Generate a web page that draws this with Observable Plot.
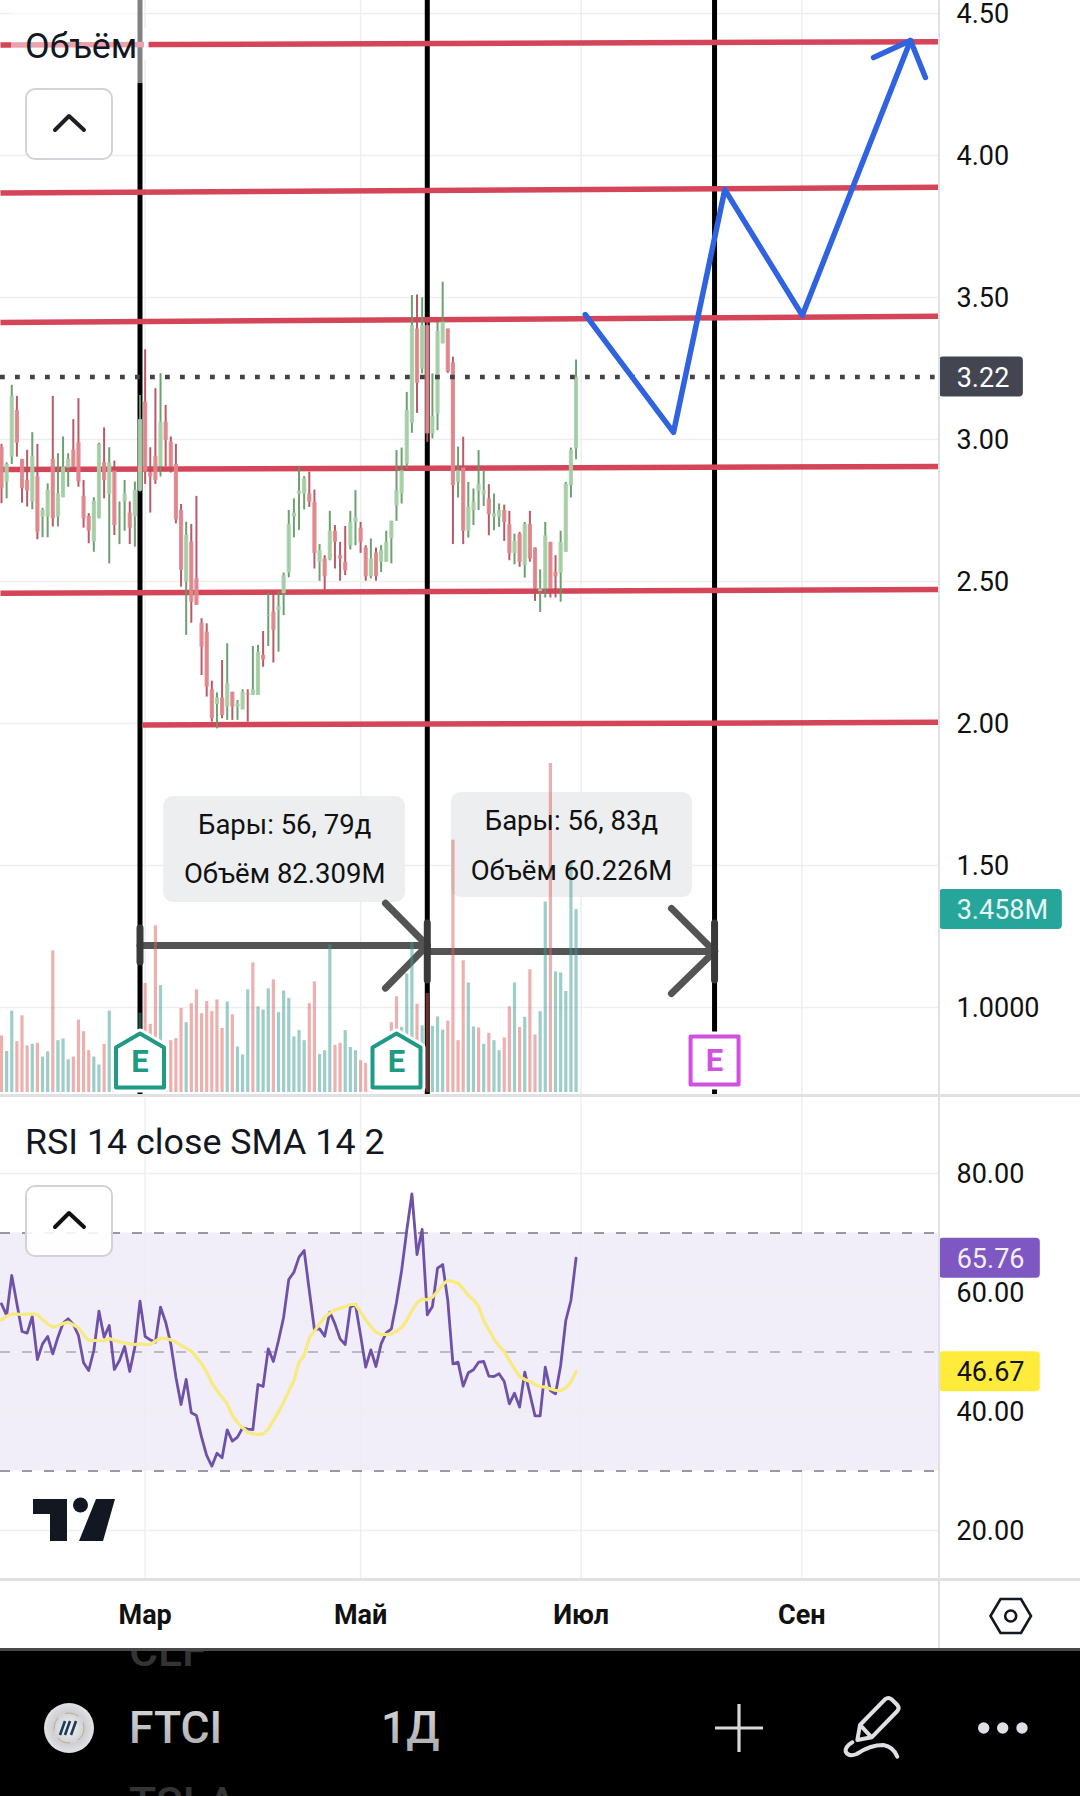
<!DOCTYPE html>
<html lang="ru">
<head>
<meta charset="utf-8">
<script src="https://cdn.jsdelivr.net/npm/d3@7"></script>
<script src="https://cdn.jsdelivr.net/npm/@observablehq/plot@0.6"></script>
<style>
html,body{margin:0;padding:0;background:#fff;}
#page{position:relative;width:1080px;height:1796px;overflow:hidden;background:#fff;font-family:Roboto,sans-serif;}
#page>svg{position:absolute;left:0;background:transparent;overflow:visible;}
.hair{position:absolute;background:#e0e1e5;}
</style>
</head>
<body>
<div id="page"></div>
<script>
// ---------- values ----------
const opens = [2.973,2.850,2.938,3.102,2.930,2.856,2.780,2.870,2.727,2.727,
2.930,2.727,2.795,2.900,2.962,2.989,2.800,2.729,2.639,2.721,
2.918,2.807,2.889,2.719,2.780,2.741,2.727,2.818,3.132,2.883,
2.940,2.905,3.061,2.991,2.912,2.750,2.498,2.639,2.510,2.353,
2.322,2.119,2.067,2.090,2.058,2.110,2.058,2.048,2.105,2.099,
2.099,2.240,2.377,2.392,2.398,2.457,2.530,2.727,2.807,2.808,
2.808,2.779,2.568,2.579,2.576,2.677,2.591,2.568,2.626,2.708,
2.688,2.618,2.517,2.600,2.568,2.568,2.650,2.767,2.808,2.914,
3.057,3.389,3.248,3.401,3.020,3.090,3.337,3.389,3.270,2.849,
2.900,2.677,2.750,2.818,2.806,2.791,2.726,2.726,2.750,2.700,
2.599,2.667,2.556,2.700,2.618,2.465,2.474,2.638,2.532,2.529,
2.603,2.838,2.967];
const closes = [2.827,2.912,3.152,2.987,2.827,2.818,2.940,2.674,2.750,2.821,
2.721,2.809,2.903,2.930,2.903,2.850,2.721,2.677,2.782,2.983,
2.856,2.918,2.697,2.721,2.809,2.688,2.821,3.070,2.885,2.868,
2.856,3.061,2.997,2.903,2.717,2.539,2.662,2.427,2.416,2.269,
2.128,2.017,2.090,2.028,2.140,2.058,2.069,2.110,2.101,2.119,
2.251,2.224,2.380,2.328,2.412,2.521,2.701,2.741,2.818,2.861,
2.779,2.599,2.609,2.517,2.677,2.638,2.579,2.538,2.708,2.726,
2.638,2.517,2.579,2.517,2.609,2.638,2.712,2.820,2.890,3.102,
3.401,3.198,3.401,3.020,3.081,3.380,3.413,3.237,2.838,2.890,
2.677,2.761,2.779,2.841,2.820,2.735,2.738,2.750,2.708,2.599,
2.641,2.568,2.700,2.579,2.474,2.474,2.661,2.474,2.517,2.638,
2.843,2.961,3.219];
const highs = [2.983,2.918,3.191,3.152,2.930,2.962,3.024,2.983,2.758,2.844,
3.152,2.950,3.009,2.950,3.070,3.144,2.856,2.739,2.795,2.987,
3.041,2.971,2.924,2.780,2.856,2.780,2.850,3.155,3.316,2.971,
3.179,3.232,3.120,3.009,2.983,2.771,2.709,2.701,2.800,2.369,
2.351,2.149,2.108,2.222,2.281,2.110,2.081,2.119,2.119,2.271,
2.275,2.324,2.459,2.459,2.463,2.530,2.750,2.791,2.903,2.869,
2.885,2.822,2.630,2.591,2.747,2.697,2.638,2.694,2.747,2.820,
2.708,2.626,2.650,2.618,2.626,2.677,2.712,2.961,2.970,3.166,
3.507,3.509,3.499,3.430,3.231,3.413,3.554,3.389,3.290,2.973,
3.008,2.849,2.826,2.961,2.888,2.841,2.808,2.773,2.769,2.747,
2.667,2.673,2.708,2.747,2.618,2.541,2.708,2.638,2.591,2.677,
2.849,2.970,3.280];
const lows = [2.774,2.791,2.912,2.938,2.776,2.762,2.753,2.647,2.654,2.654,
2.692,2.692,2.795,2.832,2.903,2.832,2.688,2.633,2.603,2.721,
2.791,2.562,2.662,2.630,2.677,2.630,2.621,2.815,2.842,2.741,
2.842,2.868,2.905,2.882,2.703,2.480,2.310,2.353,2.416,2.169,
2.093,2.005,1.981,2.017,2.011,2.011,2.011,2.048,2.005,2.099,
2.099,2.198,2.271,2.213,2.251,2.380,2.513,2.654,2.680,2.752,
2.761,2.544,2.501,2.468,2.573,2.544,2.501,2.521,2.611,2.626,
2.599,2.501,2.509,2.501,2.532,2.568,2.562,2.712,2.773,2.896,
3.022,3.092,3.231,2.990,3.002,3.031,3.337,3.233,2.630,2.794,
2.630,2.653,2.697,2.750,2.764,2.661,2.679,2.691,2.641,2.573,
2.559,2.550,2.512,2.568,2.430,2.391,2.442,2.442,2.442,2.427,
2.603,2.794,2.929];
const volumes = [1.07,.775,1.54,.96,1.45,.88,.91,.93,.67,.77,
2.68,.98,1.01,.62,.67,1.37,1.15,.79,.67,.52,
.91,1.54,.5,.6,.6,.5,.7,1.50,2.06,1.29,
3.15,2.02,.9,.98,1.02,1.59,1.32,1.68,1.94,1.49,
1.72,1.53,1.75,1.21,1.71,1.47,.86,.71,1.94,2.45,
1.62,1.56,1.96,2.13,1.51,1.92,1.78,1.05,1.17,.98,
1.68,2.09,.72,.79,2.79,.89,.93,1.17,.85,.79,
.60,.55,.5,.5,.5,.55,1.32,1.81,1.23,2.24,
2.84,1.67,1.26,1.87,1.25,1.43,1.18,1.35,4.77,.98,
2.49,2.07,1.24,1.22,.91,1.12,.98,.79,1.03,1.62,
2.07,1.23,1.42,2.32,1.09,1.53,3.60,6.22,2.28,2.26,
1.91,4.35,3.458];
const volumeSides = ["duuddduduu","duuuddddUu","duduuduudd","dudddduddd",
"dddduduuud","uuuduuuuuu","dduuudduuu","dduduuddUu",
"ududuuuddd","duududuudd","ududduuduu","uuu"];
const rsi = [58.09,56.13,62.85,58.09,53.44,53.16,55.96,48.74,51.37,52.60,
49.69,52.49,54.84,55.57,54.62,52.77,48.18,46.89,50.25,56.86,
52.49,54.45,47.06,48.57,50.92,46.72,50.81,58.54,52.60,52.04,
51.65,57.53,55.01,51.37,45.77,41.17,45.38,39.77,39.33,35.68,
32.60,30.81,32.99,32.21,36.92,35.01,35.68,37.25,37.03,36.97,
44.53,44.20,50.53,48.40,51.93,55.85,62.18,63.41,65.94,67.06,
60.33,53.78,53.89,52.66,56.69,54.73,52.21,51.26,57.53,57.98,
52.77,47.45,50.36,47.56,51.37,53.22,53.89,58.37,63.69,70.42,
76.58,66.38,70.59,56.24,57.64,64.09,64.70,58.65,48.01,48.29,
44.26,46.50,47.00,48.29,48.40,45.94,45.88,46.33,45.04,41.29,
43.08,40.73,46.61,42.97,39.27,39.27,47.45,43.53,42.97,47.73,
55.29,58.65,65.76];
const rsiSma = [55.40,56.02,56.41,56.36,56.30,56.36,56.41,56.30,55.40,54.73,
54.17,54.40,54.79,55.01,54.56,54.06,52.88,51.93,51.93,51.93,
51.82,52.27,51.93,51.71,51.54,51.37,51.26,51.37,51.26,51.26,
51.82,52.32,52.27,52.04,51.65,51.09,50.64,50.14,49.13,48.01,
46.61,44.76,43.53,42.41,41.29,39.33,38.15,37.25,36.52,36.24,
36.13,36.24,37.09,38.49,39.89,41.57,43.42,45.21,48.29,49.41,
52.38,53.50,54.73,55.85,56.52,57.08,57.36,57.64,57.98,57.98,
56.69,55.40,54.28,53.33,52.94,52.94,53.05,53.50,54.11,55.29,
56.97,58.26,58.93,58.77,59.21,60.17,61.34,62.01,61.85,61.57,
60.61,59.49,58.77,57.64,55.29,53.72,52.21,50.98,50.14,48.57,
47.17,45.88,45.38,45.04,44.54,44.20,44.09,43.81,43.53,43.53,
43.98,44.93,46.67];

const priceTicks = [1,1.5,2,2.5,3,3.5,4,4.5];
const priceTickLabels = ["1.0000","1.50","2.00","2.50","3.00","3.50","4.00","4.50"];
const rsiTicks = [20,40,60,80];
const rsiTickLabels = ["20.00","40.00","60.00","80.00"];
const timeTicks = [28,70,113,156];
const timeLabels = ["Мар","Май","Июл","Сен"];
const measureBars = [27,83,139];
const lastPrice = 3.22, lastVolume = 3.458, lastRsi = 65.76, lastSma = 46.67;

// drawn levels: bar index and price at each end
const levels = [
 {x1:-.2,y1:4.389,x2:182.8,y2:4.401},{x1:-.2,y1:3.868,x2:182.8,y2:3.888},
 {x1:-.2,y1:3.412,x2:182.8,y2:3.434},{x1:-.2,y1:2.894,x2:182.8,y2:2.905},
 {x1:-.2,y1:2.459,x2:182.8,y2:2.472},{x1:27.5,y1:1.995,x2:182.8,y2:2.004}];
const forecastX = [113.8,131,141,156.1,177.2];
const forecastY = [3.44,3.025,3.88,3.437,4.405];
const forecastHead = [{x1:177.2,y1:4.405,x2:170,y2:4.345},{x1:177.2,y1:4.405,x2:180.1,y2:4.275}];
const measureLines = [
 {x1:27,y1:1.218,x2:83,y2:1.218},{x1:83,y1:1.218,x2:74.85,y2:1.367},{x1:83,y1:1.218,x2:74.85,y2:1.068},
 {x1:83,y1:1.197,x2:139,y2:1.197},{x1:139,y1:1.197,x2:130.6,y2:1.349},{x1:139,y1:1.197,x2:130.6,y2:1.049}];
const measureCaps = [{x:27,y1:1.158,y2:1.278},{x:83,y1:1.095,y2:1.296},{x:139,y1:1.095,y2:1.296}];
const measureBoxes = [{x1:31.6,x2:78.75,y1:1.37,y2:1.743},{x1:87.7,x2:134.7,y1:1.387,y2:1.757}];
const measureTexts = [
 {x:55.2,y:1.641,t:"Бары: 56, 79д"},{x:55.2,y:1.468,t:"Объём 82.309M"},
 {x:111.1,y:1.655,t:"Бары: 56, 83д"},{x:111.1,y:1.479,t:"Объём 60.226M"}];
const earnings = [{x:27,y:.813,past:true},{x:77,y:.813,past:true},{x:139,y:.813,past:false}];

// ---------- tables ----------
const sides = volumeSides.join("").toLowerCase();
const bars = opens.map((o,i)=>({i,o,c:closes[i],h:highs[i],l:lows[i],v:volumes[i],side:sides[i],rsi:rsi[i],sma:rsiSma[i]}));
const up = bars.filter(d=>d.c>=d.o), down = bars.filter(d=>d.c<d.o);

// ---------- shared scales ----------
const xScale = {domain:[-.195,182.85],range:[0,939]};
const font = {fontFamily:"Roboto,sans-serif"};
const base = {width:1080,marginLeft:0,marginTop:0,marginRight:141,marginBottom:0,x:{...xScale,axis:null}};
const gridInk = "#eeeef1";
const house = {draw(ctx,size){const r=Math.sqrt(size/Math.PI)/27;
  ctx.moveTo(0,-27*r);ctx.lineTo(24*r,-13*r);ctx.lineTo(24*r,27*r);ctx.lineTo(-24*r,27*r);ctx.lineTo(-24*r,-13*r);ctx.closePath();}};
const box = {draw(ctx,size){const r=Math.sqrt(size/Math.PI)/27;ctx.rect(-24*r,-24*r,48*r,48*r);}};
const priceY = {domain:[.690,4.546],range:[1095,0],axis:null};
const tagFont = 27;

// lower price layer
const under = Plot.plot({...base,height:1095,y:priceY,style:{...font,top:"0px"},marks:[
  Plot.gridX(timeTicks,{stroke:gridInk,strokeOpacity:1,strokeWidth:1.5}),
  Plot.gridY(priceTicks,{stroke:gridInk,strokeOpacity:1,strokeWidth:1.5}),
  Plot.ruleX(measureBars,{stroke:"#000",strokeWidth:5}),
  Plot.rect(measureBoxes,{x1:"x1",x2:"x2",y1:"y1",y2:"y2",fill:"#eceef0",rx:10,ry:10}),
  Plot.link(measureLines,{x1:"x1",y1:"y1",x2:"x2",y2:"y2",stroke:"#545454",strokeWidth:7,strokeLinecap:"round",markerEnd:"none"}),
  Plot.ruleX(measureCaps,{x:"x",y1:"y1",y2:"y2",stroke:"#3a3a3a",strokeWidth:7,strokeLinecap:"round"}),
  Plot.link(levels,{x1:"x1",y1:"y1",x2:"x2",y2:"y2",stroke:"#d5455a",strokeWidth:5.5}),
  Plot.axisY(priceTicks,{anchor:"right",tickSize:0,tickPadding:17,fontSize:tagFont,dy:1,fill:"#111",label:null,tickFormat:(d,i)=>priceTickLabels[i]})
]});

// volume layer
const volumeUnit = 52.9;
const volume = Plot.plot({...base,height:1095,y:{domain:[-3/volumeUnit,1092/volumeUnit],range:[1095,0],axis:null},style:{...font,top:"0px"},marks:[
  Plot.ruleX(bars.filter(d=>d.side==="u"),{x:"i",y1:0,y2:"v",stroke:"#3c9b91",strokeOpacity:.5,strokeWidth:3.2}),
  Plot.ruleX(bars.filter(d=>d.side==="d"),{x:"i",y1:0,y2:"v",stroke:"#d9635f",strokeOpacity:.5,strokeWidth:3.2}),
  Plot.rect([lastVolume],{x1:182.85,x2:206.8,y1:d=>d-.378,y2:d=>d+.378,fill:"#26a69a",rx:4,ry:4}),
  Plot.text([lastVolume],{x:186.2,y:d=>d,dy:1,text:d=>d.toFixed(3)+"M",textAnchor:"start",fontSize:tagFont,fill:"#e6f7f5"})
]});

// upper price layer
const over = Plot.plot({...base,height:1095,y:priceY,style:{...font,top:"0px"},marks:[
  Plot.ruleX(up,{x:"i",y1:"l",y2:"h",stroke:"#649b68",strokeWidth:2,strokeOpacity:.95}),
  Plot.ruleX(down,{x:"i",y1:"l",y2:"h",stroke:"#b6505f",strokeWidth:2,strokeOpacity:.95}),
  Plot.ruleX(up,{x:"i",y1:"o",y2:"c",stroke:"#a9d0a9",strokeWidth:4.2,strokeOpacity:.92}),
  Plot.ruleX(down,{x:"i",y1:"o",y2:"c",stroke:"#e08a8e",strokeWidth:4.2,strokeOpacity:.92}),
  Plot.ruleY([lastPrice],{x1:-.195,x2:182,stroke:"#434343",strokeWidth:4.5,strokeDasharray:"4.8 10.2"}),
  Plot.line(forecastX.map((x,k)=>({x,y:forecastY[k]})),{x:"x",y:"y",stroke:"#3063e0",strokeWidth:5.5,strokeLinejoin:"round",strokeLinecap:"round"}),
  Plot.link(forecastHead,{x1:"x1",y1:"y1",x2:"x2",y2:"y2",stroke:"#3063e0",strokeWidth:5.5,strokeLinecap:"round"}),
  Plot.text(measureTexts,{x:"x",y:"y",text:"t",fontSize:27.5,fill:"#111"}),
  Plot.dot(earnings.filter(d=>d.past),{x:"x",y:"y",r:27,symbol:house,fill:"#fff",stroke:"#fff",strokeWidth:10,strokeLinejoin:"round"}),
  Plot.dot(earnings.filter(d=>d.past),{x:"x",y:"y",r:27,symbol:house,fill:"#fff",stroke:"#1f9a84",strokeWidth:4,strokeLinejoin:"round"}),
  Plot.dot(earnings.filter(d=>!d.past),{x:"x",y:"y",r:27,symbol:box,fill:"#fff",stroke:"#fff",strokeWidth:10,strokeLinejoin:"round"}),
  Plot.dot(earnings.filter(d=>!d.past),{x:"x",y:"y",r:27,symbol:box,fill:"#fff",stroke:"#d050e0",strokeWidth:4,strokeLinejoin:"round"}),
  Plot.text(earnings.filter(d=>d.past),{x:"x",y:"y",text:()=>"E",fontSize:31,fontWeight:700,fill:"#1f9a84",dy:2}),
  Plot.text(earnings.filter(d=>!d.past),{x:"x",y:"y",text:()=>"E",fontSize:31,fontWeight:700,fill:"#d050e0",dy:1}),
  Plot.rect([lastPrice],{x1:182.85,x2:199.2,y1:d=>d-.0704,y2:d=>d+.0704,fill:"#434651",rx:4,ry:4}),
  Plot.text([lastPrice],{x:186.2,y:d=>d,dy:1,text:d=>d.toFixed(2),textAnchor:"start",fontSize:tagFont,fill:"#fff"})
]});

// RSI pane, with the time axis below it
const rsiPane = Plot.plot({...base,height:552,marginBottom:69,
  y:{domain:[11.76,92.94],range:[483,0],axis:null},style:{...font,top:"1096px"},marks:[
  Plot.rect([0],{x1:-.195,x2:182.85,y1:30,y2:70,fill:"#7e57c2",fillOpacity:.105}),
  Plot.gridX(timeTicks,{stroke:gridInk,strokeOpacity:.9,strokeWidth:1.5}),
  Plot.gridY(rsiTicks,{stroke:gridInk,strokeOpacity:.9,strokeWidth:1.5}),
  Plot.ruleY([70,30],{stroke:"#787b86",strokeWidth:1.5,strokeDasharray:"10 12"}),
  Plot.ruleY([50],{stroke:"#787b86",strokeOpacity:.6,strokeWidth:1.5,strokeDasharray:"10 12"}),
  Plot.line(bars,{x:"i",y:"rsi",stroke:"#6e52a8",strokeWidth:2.8,strokeLinejoin:"round"}),
  Plot.line(bars,{x:"i",y:"sma",stroke:"#f7ea7e",strokeWidth:3.2,strokeLinejoin:"round"}),
  Plot.axisY(rsiTicks,{anchor:"right",tickSize:0,tickPadding:17,fontSize:tagFont,dy:1,fill:"#111",label:null,tickFormat:(d,i)=>rsiTickLabels[i]}),
  Plot.axisX(timeTicks,{anchor:"bottom",tickSize:0,tickPadding:25,fontSize:27,fontWeight:700,fill:"#111",label:null,tickFormat:(d,i)=>timeLabels[i]}),
  Plot.rect([lastRsi],{x1:182.85,x2:202.5,y1:d=>d-3.36,y2:d=>d+3.36,fill:"#7e57c2",rx:4,ry:4}),
  Plot.text([lastRsi],{x:186.2,y:d=>d,dy:1,text:d=>d.toFixed(2),textAnchor:"start",fontSize:tagFont,fill:"#f3eefc"}),
  Plot.rect([lastSma],{x1:182.85,x2:202.5,y1:d=>d-3.36,y2:d=>d+3.36,fill:"#ffeb3b",rx:4,ry:4}),
  Plot.text([lastSma],{x:186.2,y:d=>d,dy:1,text:d=>d.toFixed(2),textAnchor:"start",fontSize:tagFont,fill:"#111"})
]});

const page = document.getElementById("page");
[under,volume,over,rsiPane].forEach(s=>page.appendChild(s));

// pane borders
[["938px","0px","2px","1648px"],["0px","1094px","1080px","3px"],["0px","1578px","1080px","2.5px"]].forEach(([l,t,w,h])=>{
  const d=document.createElement("div");d.className="hair";d.style.cssText=`left:${l};top:${t};width:${w};height:${h}`;page.appendChild(d);});

// chrome: legends, logo, app bar
const chrome = document.createElementNS("http://www.w3.org/2000/svg","svg");
chrome.setAttribute("width",1080);chrome.setAttribute("height",1796);chrome.style.top="0px";
chrome.innerHTML = `
<defs>
 <radialGradient id="coin" cx="50%" cy="50%" r="55%"><stop offset="0" stop-color="#f4f4f6"/><stop offset=".6" stop-color="#cfd0d4"/><stop offset="1" stop-color="#e8e8ea"/></radialGradient>
 <linearGradient id="ink" x1="0" y1="0" x2="0" y2="1"><stop offset="0" stop-color="#d8d8da"/><stop offset="1" stop-color="#a9a9ad"/></linearGradient>
 <clipPath id="bar"><rect x="0" y="1651" width="1080" height="145"/></clipPath>
</defs>
<rect x="11" y="0" width="133" height="83" fill="#fff" fill-opacity=".5"/>
<rect x="144" y="28" width="4.5" height="32" fill="#fff"/>
<text x="25" y="58" font-size="35.8" fill="#131722">Объём</text>
<rect x="26" y="89" width="86" height="70" rx="9" fill="#fff" stroke="#d2d3d6" stroke-width="2"/>
<path d="M55 130L69 116L84 130" fill="none" stroke="#1d1f24" stroke-width="4" stroke-linecap="round" stroke-linejoin="round"/>
<text x="25" y="1154" font-size="35.8" fill="#131722">RSI 14 close SMA 14 2</text>
<rect x="26" y="1186" width="86" height="70" rx="9" fill="#fff" fill-opacity=".88" stroke="#d2d3d6" stroke-width="2"/>
<path d="M55 1227L69 1213L84 1227" fill="none" stroke="#111" stroke-width="4" stroke-linecap="round" stroke-linejoin="round"/>
<path d="M33 1499H67V1541H50V1514H33Z" fill="#131722"/><circle cx="80.5" cy="1505" r="7.5" fill="#131722"/><path d="M96 1499H115L103 1541H79Z" fill="#131722"/>
<path d="M990.5 1616L1000.5 1599H1021L1031 1616L1021 1633H1000.5Z" fill="none" stroke="#131722" stroke-width="2.6"/><circle cx="1010.7" cy="1616" r="5.5" fill="none" stroke="#131722" stroke-width="2.6"/>
<rect x="0" y="1648" width="1080" height="3" fill="#4a4a4c"/>
<rect x="0" y="1651" width="1080" height="145" fill="#000"/>
<g clip-path="url(#bar)" font-size="44.5" font-weight="500">
 <text x="129" y="1666" fill="#343434">CLF</text>
 <text x="129" y="1819" fill="#343434">TSLA</text>
</g>
<circle cx="69" cy="1728" r="25" fill="url(#coin)"/>
<circle cx="69" cy="1728" r="15" fill="none" stroke="#bba98a" stroke-width="1" stroke-dasharray="14 8"/>
<path d="M65 1721L60 1735M70 1721L65 1735M76 1721L71 1735" stroke="#1c3d5a" stroke-width="2.6"/>
<text x="129" y="1743" font-size="44.5" font-weight="500" fill="url(#ink)">FTCI</text>
<text x="381" y="1743" font-size="44.5" font-weight="500" fill="url(#ink)">1Д</text>
<path d="M739 1704V1752M715 1728H763" stroke="#d8d8da" stroke-width="3.2"/>
<g transform="translate(820 1680) scale(.3333)" fill="none" stroke="#e0e0e4" stroke-width="12" stroke-linecap="round" stroke-linejoin="round">
 <path d="M120 135L195 58Q205 50 215 58L232 75Q240 85 232 93L155 172L112 180Z M120 135L155 172"/>
 <path d="M97 187Q75 200 77 215Q85 232 110 222Q150 195 190 195Q220 200 232 230"/>
</g>
<circle cx="983.7" cy="1728" r="5.7" fill="#e0e0e4"/><circle cx="1002.7" cy="1728" r="5.7" fill="#e0e0e4"/><circle cx="1022" cy="1728" r="5.7" fill="#e0e0e4"/>`;
page.appendChild(chrome);
</script>
</body>
</html>
